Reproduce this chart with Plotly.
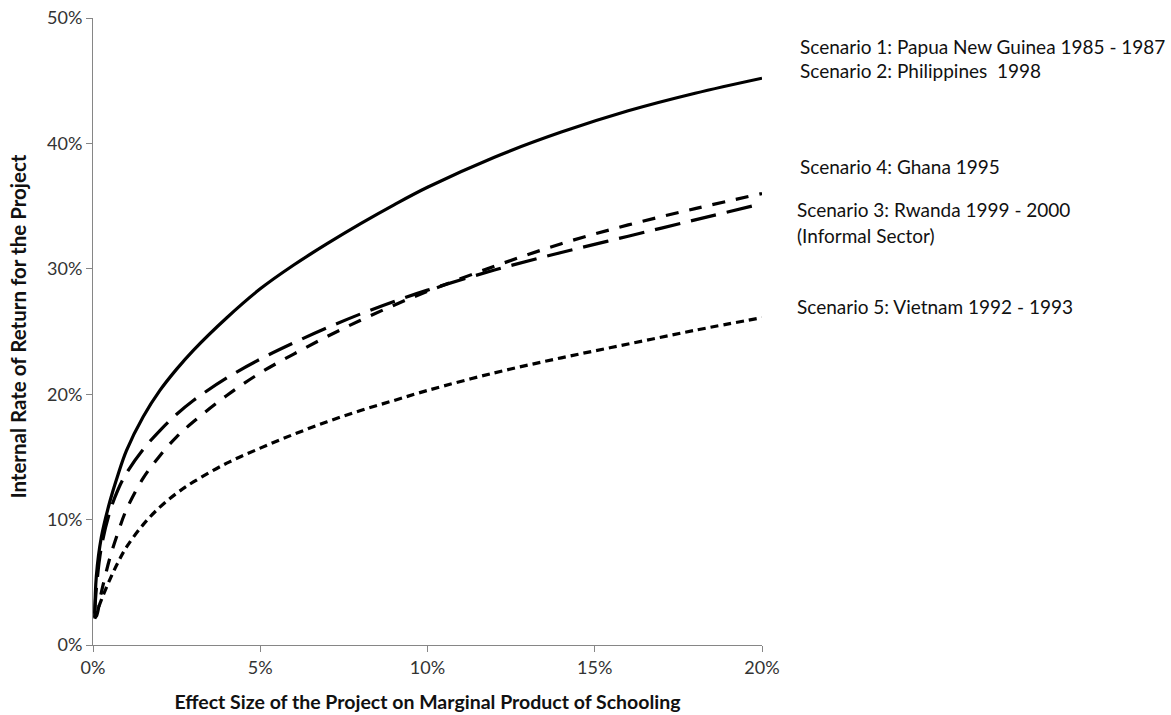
import plotly.graph_objects as go

# Effect size of the project on the marginal product of schooling (%)
effect_size = [0.05, 0.1, 0.25, 0.5, 0.75, 1.0, 1.5, 2.0, 2.5, 3.0, 4.0, 5.0,
               6.0, 7.0, 8.0, 9.0, 10.0, 12.0, 14.0, 16.0, 18.0, 20.0]

# Internal rate of return (%) for each scenario
irr_png_phl = [2.2, 5.5, 8.6, 11.4, 13.6, 15.5, 18.2, 20.3, 22.0, 23.5, 26.1, 28.4,
               30.3, 32.0, 33.6, 35.1, 36.5, 38.9, 40.9, 42.6, 44.0, 45.2]
irr_ghana = [2.2, 2.3, 4.2, 6.9, 9.0, 10.8, 13.3, 15.1, 16.6, 17.8, 19.9, 21.7,
             23.2, 24.6, 25.9, 27.1, 28.2, 30.2, 32.0, 33.5, 34.8, 36.0]
irr_rwanda = [2.5, 4.5, 7.8, 10.6, 12.4, 13.7, 15.6, 17.1, 18.4, 19.5, 21.3, 22.8,
              24.1, 25.3, 26.4, 27.4, 28.3, 29.9, 31.3, 32.6, 33.9, 35.2]
irr_vietnam = [2.1, 2.5, 3.6, 5.2, 6.6, 7.8, 9.6, 11.0, 12.1, 13.0, 14.5, 15.7,
               16.8, 17.8, 18.7, 19.5, 20.3, 21.7, 22.9, 24.0, 25.1, 26.1]

x_ticks = [0, 5, 10, 15, 20]
x_tick_text = ["0%", "5%", "10%", "15%", "20%"]
y_ticks = [0, 10, 20, 30, 40, 50]
y_tick_text = ["0%", "10%", "20%", "30%", "40%", "50%"]

series = [
    ("Scenario 1 & 2", irr_png_phl, "solid"),
    ("Scenario 4", irr_ghana, "13px,11px"),
    ("Scenario 3", irr_rwanda, "26px,11px"),
    ("Scenario 5", irr_vietnam, "8px,5px"),
]

fig = go.Figure()
for name, values, dash in series:
    fig.add_trace(go.Scatter(
        x=effect_size, y=values, mode="lines", name=name,
        line=dict(color="black", width=3.2, dash=dash, shape="spline", smoothing=1.0),
    ))

font_family = "Lato, 'Open Sans', sans-serif"
axis_color = "#868686"

fig.update_layout(
    width=1171, height=715,
    margin=dict(l=93, r=409, t=18, b=70),
    paper_bgcolor="white", plot_bgcolor="white",
    showlegend=False,
    font=dict(family=font_family, color="#222222", size=18),
    xaxis=dict(
        range=[0, 20], tickvals=x_ticks, ticktext=x_tick_text, automargin=False,
        showgrid=False, zeroline=False, showline=True, linecolor=axis_color, linewidth=1,
        ticks="outside", ticklen=6, tickcolor=axis_color,
        tickfont=dict(size=18, color="#333333"),
        title=dict(text="<b>Effect Size of the Project on Marginal Product of Schooling</b>",
                   font=dict(size=19.5, color="#111111"), standoff=18),
    ),
    yaxis=dict(
        range=[0, 50], tickvals=y_ticks, ticktext=y_tick_text, automargin=False,
        showgrid=False, zeroline=False, showline=True, linecolor=axis_color, linewidth=1,
        ticks="outside", ticklen=6, tickcolor=axis_color,
        tickfont=dict(size=18, color="#333333"),
    ),
)

# Vertical axis title
fig.add_annotation(
    text="<b>Internal Rate of Return for the Project</b>",
    x=-0.1121, y=0.508, xref="paper", yref="paper", textangle=-90,
    xanchor="center", yanchor="middle", showarrow=False,
    font=dict(size=20.5, color="#111111"),
)

# Scenario labels to the right of the plot
labels = [
    ("Scenario 1: Papua New Guinea 1985 - 1987", 1.0545, 0.9553),
    ("Scenario 2: Philippines  1998", 1.0545, 0.9155),
    ("Scenario 4: Ghana 1995", 1.0545, 0.7624),
    ("Scenario 3: Rwanda 1999 - 2000", 1.0500, 0.6938),
    ("(Informal Sector)", 1.0500, 0.6539),
    ("Scenario 5: Vietnam 1992 - 1993", 1.0500, 0.5391),
]
for text, xp, yp in labels:
    fig.add_annotation(
        text=text, x=xp, y=yp, xref="paper", yref="paper",
        xanchor="left", yanchor="middle", showarrow=False,
        font=dict(size=19, color="#111111"),
    )

fig.write_html("out.html")
